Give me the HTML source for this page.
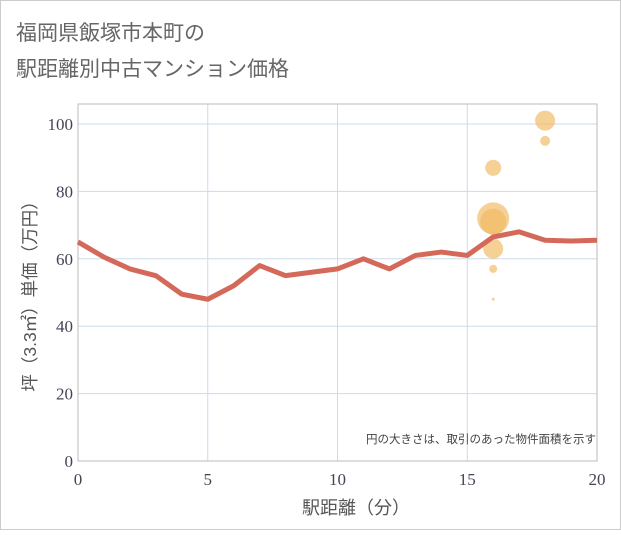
<!DOCTYPE html>
<html><head><meta charset="utf-8"><style>
body{margin:0;background:#fff;font-family:"Liberation Sans","Noto Sans CJK JP",sans-serif;}
</style></head><body>
<svg width="621" height="530" viewBox="0 0 621 530" xmlns="http://www.w3.org/2000/svg">
<rect x="0.5" y="0.5" width="620" height="529" fill="#fff" stroke="#ccc"/>
<text x="16" y="40" font-size="21" fill="#666" font-family="Liberation Sans, Noto Sans CJK JP, sans-serif">福岡県飯塚市本町の</text>
<text x="16" y="76" font-size="21" fill="#666" font-family="Liberation Sans, Noto Sans CJK JP, sans-serif">駅距離別中古マンション価格</text>
<g id="grid"></g>
<rect x="78" y="104" width="519" height="357" fill="none" stroke="#bbb"/>
<g id="bubbles"></g>
<g id="lines"></g>
<g id="axes"></g>
<text x="596" y="443" font-size="11.5" fill="#444" text-anchor="end" font-family="Liberation Sans, Noto Sans CJK JP, sans-serif">円の大きさは、取引のあった物件面積を示す</text>
<text x="356" y="514" font-size="18" fill="#555" text-anchor="middle" font-family="Liberation Sans, Noto Sans CJK JP, sans-serif">駅距離（分）</text>
<text transform="translate(36,292) rotate(-90)" font-size="17.5" fill="#555" text-anchor="middle" font-family="Liberation Sans, Noto Sans CJK JP, sans-serif">坪（3.3㎡）単価（万円）</text>
</svg>
<script>
const lineX=[0,1,2,3,4,5,6,7,8,9,10,11,12,13,14,15,16,17,18,19,20];
const lineY=[65,60.5,57,55,49.5,48,52,58,55,56,57,60,57,61,62,61,66.5,68,65.5,65.3,65.5];
const bubX=[16,16,16,16,16,16,18,18];
const bubY=[72,71,63,87,57,48,101,95];
const bubR=[16,13,10,8,4,1.5,10,5];
const xTicks=[0,5,10,15,20];
const yTicks=[0,20,40,60,80,100];
const NS="http://www.w3.org/2000/svg";
const sx=v=>78+v*(519/20), sy=v=>461-v*3.37;
function mk(t,a,p){const e=document.createElementNS(NS,t);for(const k in a)e.setAttribute(k,a[k]);p.appendChild(e);return e;}
const g=document.getElementById('grid'),ax=document.getElementById('axes');
xTicks.forEach(t=>{const l=mk('line',{x1:sx(t),x2:sx(t),y1:104,y2:461,stroke:'#cddbea'},g);

const tx=mk('text',{x:sx(t),y:485,'font-size':17,fill:'#445','text-anchor':'middle','font-family':'Liberation Serif, serif'},ax);tx.textContent=t;
});
yTicks.forEach(t=>{const l=mk('line',{x1:78,x2:597,y1:sy(t),y2:sy(t),stroke:'#cddbea'},g);

const tx=mk('text',{x:73,y:sy(t)+6,'font-size':17,fill:'#445','text-anchor':'end','font-family':'Liberation Serif, serif'},ax);tx.textContent=t;
});
const bg=document.getElementById('bubbles');
bubX.forEach((x,i)=>{const c=mk('circle',{cx:sx(x),cy:sy(bubY[i]),r:bubR[i],fill:'#f0b95e','fill-opacity':0.65},bg);
});
const p=mk('polyline',{points:lineX.map((x,i)=>sx(x)+','+sy(lineY[i])).join(' '),fill:'none',stroke:'#d4695a','stroke-width':5,'stroke-linejoin':'round'},document.getElementById('lines'));

</script>
</body></html>
